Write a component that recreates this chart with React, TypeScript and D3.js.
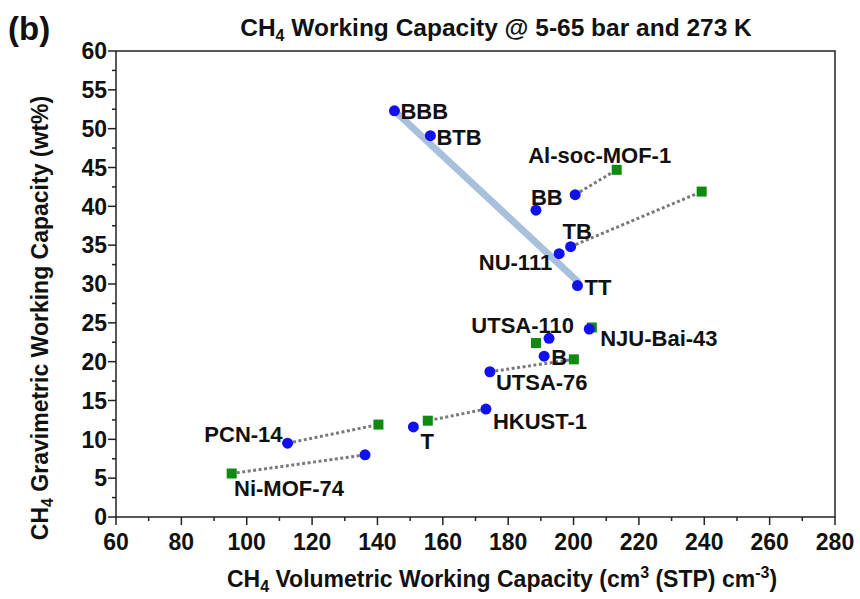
import React from "react";
import * as d3 from "d3";

const xTicks = [60, 80, 100, 120, 140, 160, 180, 200, 220, 240, 260, 280];
const yTicks = [0, 5, 10, 15, 20, 25, 30, 35, 40, 45, 50, 55, 60];

const blueNames = ["BBB", "BTB", "BB", "Al-soc-MOF-1", "TB", "NU-111", "TT", "NJU-Bai-43", "UTSA-110", "B", "UTSA-76", "HKUST-1", "T", "PCN-14", "Ni-MOF-74"];
const blueX = [145.2, 156.2, 188.5, 200.5, 199.1, 195.6, 201.2, 204.8, 192.5, 191.0, 174.4, 173.2, 151.0, 112.5, 136.2];
const blueY = [52.3, 49.1, 39.5, 41.5, 34.8, 33.9, 29.8, 24.2, 23.0, 20.7, 18.7, 13.9, 11.6, 9.5, 8.0];

const greenNames = ["Al-soc-MOF-1", "TB", "NJU-Bai-43", "UTSA-110", "UTSA-76", "HKUST-1", "PCN-14", "Ni-MOF-74"];
const greenX = [213.2, 239.2, 205.6, 188.5, 200.1, 155.4, 140.3, 95.4];
const greenY = [44.7, 41.9, 24.4, 22.4, 20.3, 12.4, 11.9, 5.6];

const linkedNames = ["Al-soc-MOF-1", "TB", "UTSA-76", "HKUST-1", "PCN-14", "Ni-MOF-74"];

const trendX = [145.2, 201.6];
const trendY = [52.3, 30.2];

// label layout: [dx, dy, anchor] relative to the blue point (pixels)
const labelLayout: Record<string, [number, number, string]> = {
  "BBB": [6, 0, "start"],
  "BTB": [6, 1, "start"],
  "Al-soc-MOF-1": [-47, -39.5, "start"],
  "BB": [-5, -13, "start"],
  "TB": [-8, -16, "start"],
  "NU-111": [-7, 8.5, "end"],
  "TT": [7, 1.5, "start"],
  "NJU-Bai-43": [11, 9, "start"],
  "UTSA-110": [25, -13.4, "end"],
  "B": [7, 1, "start"],
  "UTSA-76": [6, 10.5, "start"],
  "HKUST-1": [7, 12, "start"],
  "T": [7, 14, "start"],
  "PCN-14": [-5, -9, "end"],
  "Ni-MOF-74": [-131, 33, "start"],
};

const W = 860, H = 599;
const M = { left: 116, right: 835, top: 51, bottom: 517 };
const FONT = "'Liberation Sans', Arial, sans-serif";

export default function App() {
  const x = d3.scaleLinear().domain([60, 280]).range([M.left, M.right]);
  const y = d3.scaleLinear().domain([0, 60]).range([M.bottom, M.top]);
  const line = d3.line<[number, number]>().x(d => x(d[0])).y(d => y(d[1]));
  const xMinor = d3.range(70, 280, 20);
  const yMinor = d3.range(2.5, 60, 5);
  const blue = blueNames.map((n, i) => ({ n, x: blueX[i], y: blueY[i] }));
  const green = greenNames.map((n, i) => ({ n, x: greenX[i], y: greenY[i] }));
  const links = linkedNames.map(n => {
    const b = blue.find(p => p.n === n)!;
    const g = green.find(p => p.n === n)!;
    return [[b.x, b.y], [g.x, g.y]] as [number, number][];
  });
  const axisColor = "#222";
  return (
    <svg width={W} height={H} style={{ position: "absolute", left: 0, top: 0, background: "#fff" }} fontFamily={FONT}>
      <rect x={0} y={0} width={W} height={H} fill="#fff" />
      <text x={8} y={40} fontSize={33} fontWeight="bold" fill="#111">(b)</text>
      <text x={496} y={36} fontSize={24.5} fontWeight="bold" textAnchor="middle" fill="#111">
        CH<tspan fontSize={16} dy={5}>4</tspan><tspan dy={-5}> Working Capacity @ 5-65 bar and 273 K</tspan>
      </text>
      {/* frame */}
      <rect x={M.left} y={M.top} width={M.right - M.left} height={M.bottom - M.top} fill="none" stroke={axisColor} strokeWidth={1.5} />
      {/* x ticks */}
      {xTicks.map(t => (
        <g key={"xt" + t}>
          <line x1={x(t)} x2={x(t)} y1={M.bottom} y2={M.bottom + 8} stroke={axisColor} strokeWidth={1.5} />
          <text x={x(t)} y={550} fontSize={23} fontWeight="bold" textAnchor="middle" fill="#111">{t}</text>
        </g>
      ))}
      {xMinor.map(t => (
        <line key={"xm" + t} x1={x(t)} x2={x(t)} y1={M.bottom} y2={M.bottom + 4} stroke={axisColor} strokeWidth={1.5} />
      ))}
      {yTicks.map(t => (
        <g key={"yt" + t}>
          <line x1={M.left - 8} x2={M.left} y1={y(t)} y2={y(t)} stroke={axisColor} strokeWidth={1.5} />
          <text x={107} y={y(t)} dy="0.36em" fontSize={23} fontWeight="bold" textAnchor="end" fill="#111">{t}</text>
        </g>
      ))}
      {yMinor.map(t => (
        <line key={"ym" + t} x1={M.left - 4} x2={M.left} y1={y(t)} y2={y(t)} stroke={axisColor} strokeWidth={1.5} />
      ))}
      {/* axis titles */}
      <text x={502} y={587} fontSize={23} fontWeight="bold" textAnchor="middle" fill="#111">
        CH<tspan fontSize={16} dy={5}>4</tspan><tspan dy={-5}> Volumetric Working Capacity (cm</tspan><tspan fontSize={16} dy={-9}>3</tspan><tspan dy={9}> (STP) cm</tspan><tspan fontSize={16} dy={-9}>-3</tspan><tspan dy={9}>)</tspan>
      </text>
      <text transform={`translate(48,${318}) rotate(-90)`} fontSize={23} fontWeight="bold" textAnchor="middle" fill="#111">
        CH<tspan fontSize={16} dy={5}>4</tspan><tspan dy={-5}> Gravimetric Working Capacity (wt%)</tspan>
      </text>
      {/* trend line */}
      <path d={line(trendX.map((v, i) => [v, trendY[i]]) as any) || ""} stroke="#a9c0dd" strokeWidth={7} fill="none" />
      {/* dotted links */}
      {links.map((l, i) => (
        <path key={"l" + i} d={line(l) || ""} stroke="#7a7a7a" strokeWidth={3} strokeDasharray="3,2.5" fill="none" />
      ))}
      {/* green squares */}
      {green.map(g => (
        <rect key={"g" + g.n} x={x(g.x) - 5} y={y(g.y) - 5} width={10} height={10} fill="#108a10" />
      ))}
      {/* blue circles */}
      {blue.map(b => (
        <circle key={"b" + b.n} cx={x(b.x)} cy={y(b.y)} r={5.5} fill="#1010f0" />
      ))}
      {/* labels */}
      {blue.map(b => {
        const [dx, dy, anchor] = labelLayout[b.n];
        return (
          <text key={"t" + b.n} x={x(b.x) + dx} y={y(b.y) + dy} dy="0.36em" fontSize={22} fontWeight="bold" textAnchor={anchor as any} fill="#111">{b.n}</text>
        );
      })}
    </svg>
  );
}
